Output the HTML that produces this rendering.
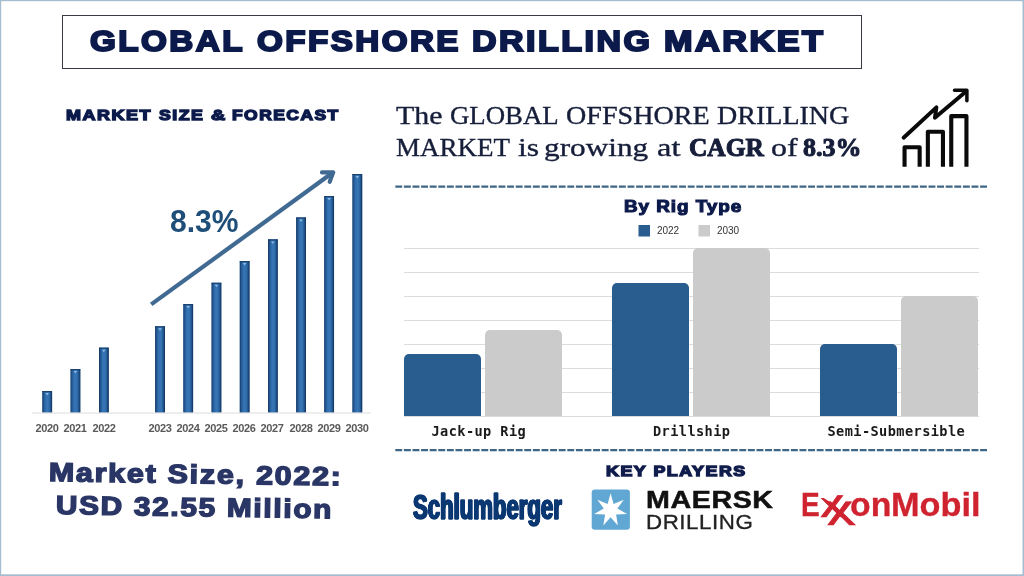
<!DOCTYPE html>
<html lang="en">
<head>
<meta charset="utf-8">
<title>Global Offshore Drilling Market</title>
<style>
*{box-sizing:border-box;margin:0;padding:0}
html,body{width:1024px;height:576px;overflow:hidden;background:#fff}
body{position:relative;font-family:"Liberation Sans",sans-serif}
#frame{z-index:20;pointer-events:none}
.abs{position:absolute;white-space:nowrap;line-height:1}
.heavy{font-family:"Liberation Sans",sans-serif;font-weight:bold;transform-origin:0 0}
#titlebox{position:absolute;left:62px;top:15px;width:800px;height:54px;border:1px solid #3a3a44}
.yr{position:absolute;top:422px;width:40px;margin-left:-20px;text-align:center;font-size:11px;line-height:13px;color:#595959;font-weight:bold;letter-spacing:-0.4px}
.w{font-family:"Liberation Serif",serif;white-space:pre}
.lg{font-size:10px;color:#333;top:226.4px;letter-spacing:-0.1px}
.cat{font-family:"DejaVu Sans Mono","Liberation Mono",monospace;font-weight:bold;font-size:13.6px;letter-spacing:0.42px;color:#1a1a1a;top:424.5px}
svg{position:absolute;left:0;top:0}
.xx{font-size:40.5px;color:#cf2430;-webkit-text-stroke:0.7px #cf2430;font-weight:normal;transform-origin:10.1px 23.1px;transform:skewX(7.8deg) scaleX(1.3)}
#xx1{left:821.9px;top:482.9px;clip-path:polygon(-5px 15px,4.5px 15px,10px 20px,14px 5px,30px 5px,30px 40px,-5px 40px)}
#xx2{left:828.9px;top:488.3px;font-size:44px;transform-origin:11px 25.1px}
/*FIT-START*/
#ms1{left:48.90px;top:458.94px;font-size:26.20px;color:#2a3665;-webkit-text-stroke:1.4px #2a3665;letter-spacing:1.50px;transform:rotate(0.88deg) scaleX(1.1633);transform-origin:0 0;font-weight:bold;}
#ms2{left:56.00px;top:492.30px;font-size:26.20px;color:#2a3665;-webkit-text-stroke:1.4px #2a3665;letter-spacing:1.50px;transform:rotate(0.88deg) scaleX(1.1377);transform-origin:0 0;font-weight:bold;}
#rig{left:624.30px;top:198.90px;font-size:15.90px;color:#0c1a4b;-webkit-text-stroke:1.05px #0c1a4b;letter-spacing:0.80px;transform:scaleX(1.1891);transform-origin:0 0;font-weight:bold;}
#kp{left:605.90px;top:463.30px;font-size:15.10px;color:#101d4c;-webkit-text-stroke:1.4px #101d4c;letter-spacing:1.30px;transform:scaleX(1.1810);transform-origin:0 0;font-weight:bold;}
#pct{left:170.30px;top:206.18px;font-size:30.67px;color:#1f4e79;letter-spacing:0.00px;transform:scaleX(0.9806);transform-origin:0 0;font-weight:bold;}
#l1a{left:396.25px;top:99.60px;font-size:25.60px;color:#161e3a;-webkit-text-stroke:0.35px #161e3a;letter-spacing:0.00px;transform:scaleX(1.1676);transform-origin:0 0;line-height:32.8px;}
#l1b{left:450.15px;top:99.60px;font-size:25.60px;color:#161e3a;-webkit-text-stroke:0.35px #161e3a;letter-spacing:0.00px;transform:scaleX(1.0476);transform-origin:0 0;line-height:32.8px;}
#l1c{left:566.00px;top:99.60px;font-size:25.60px;color:#161e3a;-webkit-text-stroke:0.35px #161e3a;letter-spacing:0.00px;transform:scaleX(1.0976);transform-origin:0 0;line-height:32.8px;}
#l1d{left:716.75px;top:99.60px;font-size:25.60px;color:#161e3a;-webkit-text-stroke:0.35px #161e3a;letter-spacing:0.00px;transform:scaleX(1.0954);transform-origin:0 0;line-height:32.8px;}
#l2a{left:396.00px;top:132.20px;font-size:25.60px;color:#161e3a;-webkit-text-stroke:0.35px #161e3a;letter-spacing:0.00px;transform:scaleX(1.0546);transform-origin:0 0;line-height:32.8px;}
#l2b{left:517.75px;top:132.20px;font-size:25.60px;color:#161e3a;-webkit-text-stroke:0.35px #161e3a;letter-spacing:0.00px;transform:scaleX(1.2376);transform-origin:0 0;line-height:32.8px;}
#l2c{left:544.10px;top:132.20px;font-size:25.60px;color:#161e3a;-webkit-text-stroke:0.35px #161e3a;letter-spacing:0.00px;transform:scaleX(1.2216);transform-origin:0 0;line-height:32.8px;}
#l2d{left:657.00px;top:132.20px;font-size:25.60px;color:#161e3a;-webkit-text-stroke:0.35px #161e3a;letter-spacing:0.00px;transform:scaleX(1.2699);transform-origin:0 0;line-height:32.8px;}
#l2e{left:689.00px;top:132.20px;font-size:25.60px;color:#161e3a;-webkit-text-stroke:1.0px #161e3a;letter-spacing:0.00px;transform:scaleX(0.9930);transform-origin:0 0;line-height:32.8px;font-weight:bold;}
#l2f{left:763.25px;top:132.20px;font-size:25.60px;color:#161e3a;-webkit-text-stroke:0.35px #161e3a;letter-spacing:0.00px;transform:scaleX(1.2494);transform-origin:0 0;line-height:32.8px;}
#l2g{left:802.50px;top:132.20px;font-size:25.60px;color:#161e3a;-webkit-text-stroke:1.0px #161e3a;letter-spacing:0.00px;transform:scaleX(1.0154);transform-origin:0 0;line-height:32.8px;font-weight:bold;}
#slb{left:412.75px;top:489.47px;font-size:35.08px;color:#0b3872;-webkit-text-stroke:1.5px #0b3872;letter-spacing:0.00px;transform:scaleX(0.6310);transform-origin:0 0;font-weight:bold;text-shadow:1.3px 0 0 #0b3872,-1.3px 0 0 #0b3872,0.7px 0 0 #0b3872,-0.7px 0 0 #0b3872;}
#mk1{left:646.30px;top:488.28px;font-size:24.11px;color:#111111;-webkit-text-stroke:0.5px #111111;letter-spacing:0.50px;transform:scaleX(1.1874);transform-origin:0 0;font-weight:bold;}
#mk2{left:645.80px;top:513.28px;font-size:19.75px;color:#222222;-webkit-text-stroke:0.3px #222222;letter-spacing:0.50px;transform:scaleX(1.1288);transform-origin:0 0;}
#xe{left:801.10px;top:489.00px;font-size:32.50px;color:#cf2430;-webkit-text-stroke:0.3px #cf2430;letter-spacing:0.00px;transform:scaleX(0.8635);transform-origin:0 0;font-weight:bold;}
#xon{left:849.50px;top:489.00px;font-size:32.50px;color:#cf2430;-webkit-text-stroke:0.3px #cf2430;letter-spacing:0.00px;transform:scaleX(1.0397);transform-origin:0 0;font-weight:bold;}
#xmb{left:890.75px;top:489.00px;font-size:32.50px;color:#cf2430;-webkit-text-stroke:0.3px #cf2430;letter-spacing:0.00px;transform:scaleX(1.0557);transform-origin:0 0;font-weight:bold;}
#m1{left:65.75px;top:107.00px;font-size:15.40px;color:#0c1a4b;-webkit-text-stroke:1.4px #0c1a4b;letter-spacing:1.30px;transform:scaleX(1.1680);transform-origin:0 0;font-weight:bold;white-space:pre;}
#m2{left:158.50px;top:107.00px;font-size:15.40px;color:#0c1a4b;-webkit-text-stroke:1.4px #0c1a4b;letter-spacing:1.30px;transform:scaleX(1.1513);transform-origin:0 0;font-weight:bold;white-space:pre;}
#m3{left:211.00px;top:107.00px;font-size:15.40px;color:#0c1a4b;-webkit-text-stroke:1.4px #0c1a4b;letter-spacing:1.30px;transform:scaleX(1.2784);transform-origin:0 0;font-weight:bold;white-space:pre;}
#m4{left:232.00px;top:107.00px;font-size:15.40px;color:#0c1a4b;-webkit-text-stroke:1.4px #0c1a4b;letter-spacing:1.30px;transform:scaleX(1.1330);transform-origin:0 0;font-weight:bold;white-space:pre;}
#t1{left:90.20px;top:26.20px;font-size:30.00px;color:#0c1a4b;-webkit-text-stroke:2px #0c1a4b;letter-spacing:2.20px;transform:scaleX(1.1074);transform-origin:0 0;font-weight:bold;white-space:pre;}
#t2{left:256.50px;top:26.20px;font-size:30.00px;color:#0c1a4b;-webkit-text-stroke:2px #0c1a4b;letter-spacing:2.20px;transform:scaleX(1.1068);transform-origin:0 0;font-weight:bold;white-space:pre;}
#t3{left:471.70px;top:26.20px;font-size:30.00px;color:#0c1a4b;-webkit-text-stroke:2px #0c1a4b;letter-spacing:2.20px;transform:scaleX(1.1332);transform-origin:0 0;font-weight:bold;white-space:pre;}
#t4{left:663.50px;top:26.20px;font-size:30.00px;color:#0c1a4b;-webkit-text-stroke:2px #0c1a4b;letter-spacing:2.20px;transform:scaleX(1.1411);transform-origin:0 0;font-weight:bold;white-space:pre;}
/*FIT-END*/
</style>
</head>
<body>
<svg id="gfx" width="1024" height="576" viewBox="0 0 1024 576">
<!-- left chart -->
<g id="lbars">
<g transform="translate(42.4 391.0)"><rect x="0" y="0" width="9.6" height="21.5" fill="#2f6aa8"/><rect x="0.0" y="0" width="1.05" height="21.5" fill="#183d68"/><rect x="0.9" y="0" width="1.05" height="21.5" fill="#21518a"/><rect x="1.8" y="0" width="1.15" height="21.5" fill="#2a619e"/><rect x="2.8" y="0" width="1.35" height="21.5" fill="#3270ae"/><rect x="4.0" y="0" width="1.95" height="21.5" fill="#3775b5"/><rect x="5.8" y="0" width="1.35" height="21.5" fill="#3370ae"/><rect x="7.0" y="0" width="1.15" height="21.5" fill="#2a609c"/><rect x="8.0" y="0" width="0.95" height="21.5" fill="#1f4d84"/><rect x="8.8" y="0" width="0.95" height="21.5" fill="#123660"/><rect x="0" y="0" width="9.6" height="1.1" fill="#1a3c64" opacity="0.85"/><path d="M3 2 h3.6 l-1.800 2.500 z" fill="#8fbde6" opacity="0.95"/></g>
<g transform="translate(70.6 369.0)"><rect x="0" y="0" width="9.6" height="43.5" fill="#2f6aa8"/><rect x="0.0" y="0" width="1.05" height="43.5" fill="#183d68"/><rect x="0.9" y="0" width="1.05" height="43.5" fill="#21518a"/><rect x="1.8" y="0" width="1.15" height="43.5" fill="#2a619e"/><rect x="2.8" y="0" width="1.35" height="43.5" fill="#3270ae"/><rect x="4.0" y="0" width="1.95" height="43.5" fill="#3775b5"/><rect x="5.8" y="0" width="1.35" height="43.5" fill="#3370ae"/><rect x="7.0" y="0" width="1.15" height="43.5" fill="#2a609c"/><rect x="8.0" y="0" width="0.95" height="43.5" fill="#1f4d84"/><rect x="8.8" y="0" width="0.95" height="43.5" fill="#123660"/><rect x="0" y="0" width="9.6" height="1.1" fill="#1a3c64" opacity="0.85"/><path d="M3 2 h3.6 l-1.800 2.500 z" fill="#8fbde6" opacity="0.95"/></g>
<g transform="translate(99.0 347.7)"><rect x="0" y="0" width="9.6" height="64.8" fill="#2f6aa8"/><rect x="0.0" y="0" width="1.05" height="64.8" fill="#183d68"/><rect x="0.9" y="0" width="1.05" height="64.8" fill="#21518a"/><rect x="1.8" y="0" width="1.15" height="64.8" fill="#2a619e"/><rect x="2.8" y="0" width="1.35" height="64.8" fill="#3270ae"/><rect x="4.0" y="0" width="1.95" height="64.8" fill="#3775b5"/><rect x="5.8" y="0" width="1.35" height="64.8" fill="#3370ae"/><rect x="7.0" y="0" width="1.15" height="64.8" fill="#2a609c"/><rect x="8.0" y="0" width="0.95" height="64.8" fill="#1f4d84"/><rect x="8.8" y="0" width="0.95" height="64.8" fill="#123660"/><rect x="0" y="0" width="9.6" height="1.1" fill="#1a3c64" opacity="0.85"/><path d="M3 2 h3.6 l-1.800 2.500 z" fill="#8fbde6" opacity="0.95"/></g>
<g transform="translate(155.2 326.3)"><rect x="0" y="0" width="9.6" height="86.2" fill="#2f6aa8"/><rect x="0.0" y="0" width="1.05" height="86.2" fill="#183d68"/><rect x="0.9" y="0" width="1.05" height="86.2" fill="#21518a"/><rect x="1.8" y="0" width="1.15" height="86.2" fill="#2a619e"/><rect x="2.8" y="0" width="1.35" height="86.2" fill="#3270ae"/><rect x="4.0" y="0" width="1.95" height="86.2" fill="#3775b5"/><rect x="5.8" y="0" width="1.35" height="86.2" fill="#3370ae"/><rect x="7.0" y="0" width="1.15" height="86.2" fill="#2a609c"/><rect x="8.0" y="0" width="0.95" height="86.2" fill="#1f4d84"/><rect x="8.8" y="0" width="0.95" height="86.2" fill="#123660"/><rect x="0" y="0" width="9.6" height="1.1" fill="#1a3c64" opacity="0.85"/><path d="M3 2 h3.6 l-1.800 2.500 z" fill="#8fbde6" opacity="0.95"/></g>
<g transform="translate(183.4 304.0)"><rect x="0" y="0" width="9.6" height="108.5" fill="#2f6aa8"/><rect x="0.0" y="0" width="1.05" height="108.5" fill="#183d68"/><rect x="0.9" y="0" width="1.05" height="108.5" fill="#21518a"/><rect x="1.8" y="0" width="1.15" height="108.5" fill="#2a619e"/><rect x="2.8" y="0" width="1.35" height="108.5" fill="#3270ae"/><rect x="4.0" y="0" width="1.95" height="108.5" fill="#3775b5"/><rect x="5.8" y="0" width="1.35" height="108.5" fill="#3370ae"/><rect x="7.0" y="0" width="1.15" height="108.5" fill="#2a609c"/><rect x="8.0" y="0" width="0.95" height="108.5" fill="#1f4d84"/><rect x="8.8" y="0" width="0.95" height="108.5" fill="#123660"/><rect x="0" y="0" width="9.6" height="1.1" fill="#1a3c64" opacity="0.85"/><path d="M3 2 h3.6 l-1.800 2.500 z" fill="#8fbde6" opacity="0.95"/></g>
<g transform="translate(211.6 282.8)"><rect x="0" y="0" width="9.6" height="129.7" fill="#2f6aa8"/><rect x="0.0" y="0" width="1.05" height="129.7" fill="#183d68"/><rect x="0.9" y="0" width="1.05" height="129.7" fill="#21518a"/><rect x="1.8" y="0" width="1.15" height="129.7" fill="#2a619e"/><rect x="2.8" y="0" width="1.35" height="129.7" fill="#3270ae"/><rect x="4.0" y="0" width="1.95" height="129.7" fill="#3775b5"/><rect x="5.8" y="0" width="1.35" height="129.7" fill="#3370ae"/><rect x="7.0" y="0" width="1.15" height="129.7" fill="#2a609c"/><rect x="8.0" y="0" width="0.95" height="129.7" fill="#1f4d84"/><rect x="8.8" y="0" width="0.95" height="129.7" fill="#123660"/><rect x="0" y="0" width="9.6" height="1.1" fill="#1a3c64" opacity="0.85"/><path d="M3 2 h3.6 l-1.800 2.500 z" fill="#8fbde6" opacity="0.95"/></g>
<g transform="translate(239.8 261.0)"><rect x="0" y="0" width="9.6" height="151.5" fill="#2f6aa8"/><rect x="0.0" y="0" width="1.05" height="151.5" fill="#183d68"/><rect x="0.9" y="0" width="1.05" height="151.5" fill="#21518a"/><rect x="1.8" y="0" width="1.15" height="151.5" fill="#2a619e"/><rect x="2.8" y="0" width="1.35" height="151.5" fill="#3270ae"/><rect x="4.0" y="0" width="1.95" height="151.5" fill="#3775b5"/><rect x="5.8" y="0" width="1.35" height="151.5" fill="#3370ae"/><rect x="7.0" y="0" width="1.15" height="151.5" fill="#2a609c"/><rect x="8.0" y="0" width="0.95" height="151.5" fill="#1f4d84"/><rect x="8.8" y="0" width="0.95" height="151.5" fill="#123660"/><rect x="0" y="0" width="9.6" height="1.1" fill="#1a3c64" opacity="0.85"/><path d="M3 2 h3.6 l-1.800 2.500 z" fill="#8fbde6" opacity="0.95"/></g>
<g transform="translate(268.0 239.4)"><rect x="0" y="0" width="9.6" height="173.1" fill="#2f6aa8"/><rect x="0.0" y="0" width="1.05" height="173.1" fill="#183d68"/><rect x="0.9" y="0" width="1.05" height="173.1" fill="#21518a"/><rect x="1.8" y="0" width="1.15" height="173.1" fill="#2a619e"/><rect x="2.8" y="0" width="1.35" height="173.1" fill="#3270ae"/><rect x="4.0" y="0" width="1.95" height="173.1" fill="#3775b5"/><rect x="5.8" y="0" width="1.35" height="173.1" fill="#3370ae"/><rect x="7.0" y="0" width="1.15" height="173.1" fill="#2a609c"/><rect x="8.0" y="0" width="0.95" height="173.1" fill="#1f4d84"/><rect x="8.8" y="0" width="0.95" height="173.1" fill="#123660"/><rect x="0" y="0" width="9.6" height="1.1" fill="#1a3c64" opacity="0.85"/><path d="M3 2 h3.6 l-1.800 2.500 z" fill="#8fbde6" opacity="0.95"/></g>
<g transform="translate(296.2 217.5)"><rect x="0" y="0" width="9.6" height="195.0" fill="#2f6aa8"/><rect x="0.0" y="0" width="1.05" height="195.0" fill="#183d68"/><rect x="0.9" y="0" width="1.05" height="195.0" fill="#21518a"/><rect x="1.8" y="0" width="1.15" height="195.0" fill="#2a619e"/><rect x="2.8" y="0" width="1.35" height="195.0" fill="#3270ae"/><rect x="4.0" y="0" width="1.95" height="195.0" fill="#3775b5"/><rect x="5.8" y="0" width="1.35" height="195.0" fill="#3370ae"/><rect x="7.0" y="0" width="1.15" height="195.0" fill="#2a609c"/><rect x="8.0" y="0" width="0.95" height="195.0" fill="#1f4d84"/><rect x="8.8" y="0" width="0.95" height="195.0" fill="#123660"/><rect x="0" y="0" width="9.6" height="1.1" fill="#1a3c64" opacity="0.85"/><path d="M3 2 h3.6 l-1.800 2.500 z" fill="#8fbde6" opacity="0.95"/></g>
<g transform="translate(324.3 196.0)"><rect x="0" y="0" width="9.6" height="216.5" fill="#2f6aa8"/><rect x="0.0" y="0" width="1.05" height="216.5" fill="#183d68"/><rect x="0.9" y="0" width="1.05" height="216.5" fill="#21518a"/><rect x="1.8" y="0" width="1.15" height="216.5" fill="#2a619e"/><rect x="2.8" y="0" width="1.35" height="216.5" fill="#3270ae"/><rect x="4.0" y="0" width="1.95" height="216.5" fill="#3775b5"/><rect x="5.8" y="0" width="1.35" height="216.5" fill="#3370ae"/><rect x="7.0" y="0" width="1.15" height="216.5" fill="#2a609c"/><rect x="8.0" y="0" width="0.95" height="216.5" fill="#1f4d84"/><rect x="8.8" y="0" width="0.95" height="216.5" fill="#123660"/><rect x="0" y="0" width="9.6" height="1.1" fill="#1a3c64" opacity="0.85"/><path d="M3 2 h3.6 l-1.800 2.500 z" fill="#8fbde6" opacity="0.95"/></g>
<g transform="translate(352.5 174.0)"><rect x="0" y="0" width="9.6" height="238.5" fill="#2f6aa8"/><rect x="0.0" y="0" width="1.05" height="238.5" fill="#183d68"/><rect x="0.9" y="0" width="1.05" height="238.5" fill="#21518a"/><rect x="1.8" y="0" width="1.15" height="238.5" fill="#2a619e"/><rect x="2.8" y="0" width="1.35" height="238.5" fill="#3270ae"/><rect x="4.0" y="0" width="1.95" height="238.5" fill="#3775b5"/><rect x="5.8" y="0" width="1.35" height="238.5" fill="#3370ae"/><rect x="7.0" y="0" width="1.15" height="238.5" fill="#2a609c"/><rect x="8.0" y="0" width="0.95" height="238.5" fill="#1f4d84"/><rect x="8.8" y="0" width="0.95" height="238.5" fill="#123660"/><rect x="0" y="0" width="9.6" height="1.1" fill="#1a3c64" opacity="0.85"/><path d="M3 2 h3.6 l-1.800 2.500 z" fill="#8fbde6" opacity="0.95"/></g>
</g>
<line x1="32" y1="413" x2="371" y2="413" stroke="#dcdcdc" stroke-width="1"/>
<!-- arrow -->
<g stroke="#416a93" stroke-width="4.2" stroke-linecap="round" stroke-linejoin="round" fill="none">
<path d="M151.200 304.400 L332.500 172.800" stroke-linecap="butt"/>
<path d="M322 172.400 L333.200 172.300 L329.700 181.800"/>
</g>
<!-- dashed separators -->
<g stroke="#3f6685" stroke-width="2.2" stroke-dasharray="6.9 1.7">
<line x1="395.3" y1="186.700" x2="988.3" y2="186.700"/>
<line x1="395.3" y1="450.200" x2="988.3" y2="450.200"/>
</g>
<!-- rig chart -->
<g stroke="#dcdcdc" stroke-width="1">
<line x1="404" x2="979" y1="248.500" y2="248.500"/>
<line x1="404" x2="979" y1="272.500" y2="272.500"/>
<line x1="404" x2="979" y1="296.500" y2="296.500"/>
<line x1="404" x2="979" y1="320.500" y2="320.500"/>
<line x1="404" x2="979" y1="344.500" y2="344.500"/>
<line x1="404" x2="979" y1="368.500" y2="368.500"/>
<line x1="404" x2="979" y1="392.500" y2="392.500"/>
<line x1="404" x2="979" y1="416.500" y2="416.500"/>
</g>
<g fill="#2a5d8f">
<path d="M404 416 V359 a5 5 0 0 1 5 -5 H476 a5 5 0 0 1 5 5 V416 Z"/>
<path d="M612 416 V288 a5 5 0 0 1 5 -5 H684 a5 5 0 0 1 5 5 V416 Z"/>
<path d="M820 416 V349 a5 5 0 0 1 5 -5 H892 a5 5 0 0 1 5 5 V416 Z"/>
<rect x="638.500" y="225" width="11.500" height="11.500"/>
</g>
<g fill="#cbcbcb">
<path d="M485 416 V335 a5 5 0 0 1 5 -5 H557 a5 5 0 0 1 5 5 V416 Z"/>
<path d="M693 416 V253 a5 5 0 0 1 5 -5 H765 a5 5 0 0 1 5 5 V416 Z"/>
<path d="M901 416 V301 a5 5 0 0 1 5 -5 H973 a5 5 0 0 1 5 5 V416 Z"/>
<rect x="698.500" y="225" width="11.500" height="11.500"/>
</g>
<!-- growth icon -->
<g stroke="#0a0a0a" fill="none" stroke-width="4.100" stroke-linejoin="round">
<path d="M904.550 166.700 V147.300 H919.650 V166.700"/>
<path d="M927.850 166.700 V131.700 H942.950 V166.700"/>
<path d="M951.250 166.700 V116.100 H966.450 V166.700"/>
</g>
<g stroke="#0a0a0a" fill="none" stroke-width="3.900" stroke-linejoin="round" stroke-linecap="round">
<path d="M903.600 137.700 L936.400 107.400 L934.900 117.800 L966 91.500"/>
<path d="M954.500 90.300 H966.900 V100.800" stroke-width="3.500"/>
</g>
<!-- maersk -->
<rect x="591.700" y="489.400" width="38.200" height="40.400" rx="3.200" fill="#60a7d3"/>
<polygon id="star" fill="#fff" points="610.6,493.3 613.6,503.9 623.8,499.7 617.4,508.6 627.1,514.0 616.1,514.6 617.9,525.4 610.6,517.2 603.3,525.4 605.1,514.6 594.1,514.0 603.8,508.6 597.4,499.7 607.6,503.9"/>
</svg>

<div id="titlebox"></div>
<h1 id="title"><span id="t1" class="abs heavy">GLOBAL </span><span id="t2" class="abs heavy">OFFSHORE </span><span id="t3" class="abs heavy">DRILLING </span><span id="t4" class="abs heavy">MARKET</span></h1>
<div id="msf"><span id="m1" class="abs heavy">MARKET </span><span id="m2" class="abs heavy">SIZE </span><span id="m3" class="abs heavy">&amp; </span><span id="m4" class="abs heavy">FORECAST</span></div>
<div id="pct" class="abs">8.3%</div>
<div id="ms1" class="abs heavy">Market Size, 2022:</div>
<div id="ms2" class="abs heavy">USD 32.55 Million</div>

<div class="yr" style="left:47px">2020</div>
<div class="yr" style="left:75px">2021</div>
<div class="yr" style="left:104px">2022</div>
<div class="yr" style="left:160px">2023</div>
<div class="yr" style="left:188px">2024</div>
<div class="yr" style="left:216px">2025</div>
<div class="yr" style="left:244px">2026</div>
<div class="yr" style="left:272px">2027</div>
<div class="yr" style="left:301px">2028</div>
<div class="yr" style="left:329px">2029</div>
<div class="yr" style="left:357px">2030</div>

<div id="lead">
<span id="l1a" class="abs w">The </span><span id="l1b" class="abs w">GLOBAL </span><span id="l1c" class="abs w">OFFSHORE </span><span id="l1d" class="abs w">DRILLING </span>
<span id="l2a" class="abs w">MARKET </span><span id="l2b" class="abs w">is </span><span id="l2c" class="abs w">growing </span><span id="l2d" class="abs w">at </span><b id="l2e" class="abs w">CAGR</b><span id="l2f" class="abs w"> of </span><b id="l2g" class="abs w">8.3%</b>
</div>
<div id="rig" class="abs heavy">By Rig Type</div>
<div class="abs lg" style="left:657px">2022</div>
<div class="abs lg" style="left:717px">2030</div>
<div class="abs cat" style="left:431.500px">Jack-up Rig</div>
<div class="abs cat" style="left:653px">Drillship</div>
<div class="abs cat" style="left:827.500px">Semi-Submersible</div>
<div id="kp" class="abs heavy">KEY PLAYERS</div>
<div id="slb" class="abs">Schlumberger</div>
<div id="mk1" class="abs">MAERSK</div>
<div id="mk2" class="abs">DRILLING</div>
<div id="xom"><span id="xe" class="abs">E</span><span id="xx1" class="abs xx">x</span><span id="xx2" class="abs xx">x</span><span id="xon" class="abs">on</span><span id="xmb" class="abs">Mobil</span></div>
<svg id="frame" width="1024" height="576" viewBox="0 0 1024 576"><g fill="#a6bdd1"><rect x="0" y="0" width="1024" height="1.200"/><rect x="0" y="0" width="1.200" height="576"/><rect x="1022.500" y="0" width="1.500" height="576"/><rect x="0" y="574.300" width="1024" height="1.700"/></g></svg>
</body>
</html>
